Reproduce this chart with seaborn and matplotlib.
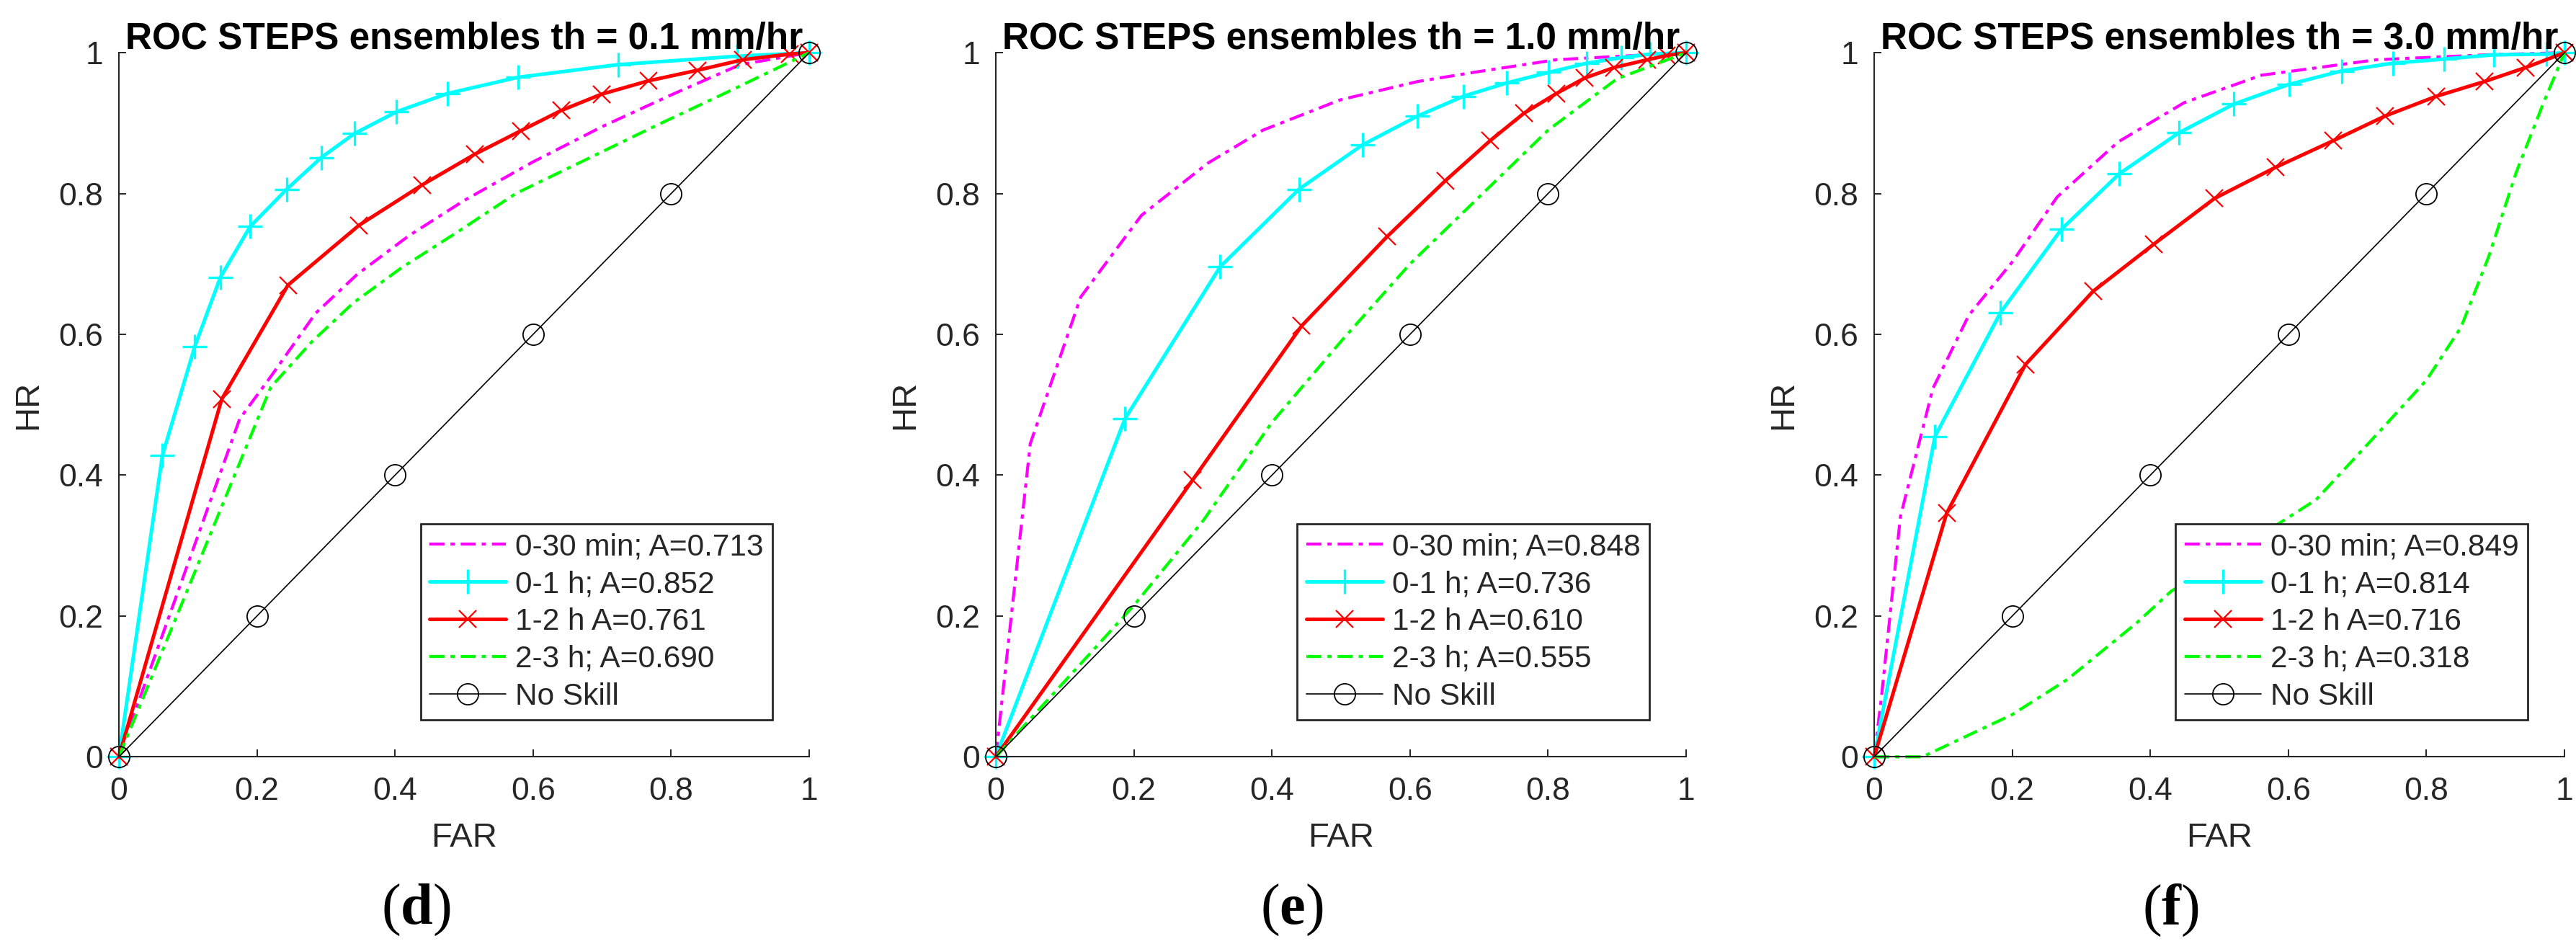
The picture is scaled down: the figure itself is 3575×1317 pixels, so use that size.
import numpy as np
import pandas as pd
import seaborn as sns
import matplotlib
matplotlib.use('Agg')
import matplotlib.pyplot as plt

# panel titles / legend labels
titles = ['ROC STEPS ensembles th = 0.1 mm/hr',
          'ROC STEPS ensembles th = 1.0 mm/hr',
          'ROC STEPS ensembles th = 3.0 mm/hr']
panel_tags = ['d', 'e', 'f']
labels_d = ['0-30 min; A=0.713', '0-1 h; A=0.852', '1-2 h A=0.761', '2-3 h; A=0.690', 'No Skill']
labels_e = ['0-30 min; A=0.848', '0-1 h; A=0.736', '1-2 h A=0.610', '2-3 h; A=0.555', 'No Skill']
labels_f = ['0-30 min; A=0.849', '0-1 h; A=0.814', '1-2 h A=0.716', '2-3 h; A=0.318', 'No Skill']

tick_vals = [0, 0.2, 0.4, 0.6, 0.8, 1]
tick_text = ['0', '0.2', '0.4', '0.6', '0.8', '1']

# no skill diagonal
noskill_x = [0, 0.2, 0.4, 0.6, 0.8, 1]
noskill_y = [0, 0.2, 0.4, 0.6, 0.8, 1]

# ---- (d) th = 0.1
mag_d_x = [0, 0.175, 0.22, 0.285, 0.345, 0.42, 0.50, 0.60, 0.70, 0.80, 0.90, 1]
mag_d_y = [0, 0.48, 0.54, 0.63, 0.685, 0.74, 0.79, 0.845, 0.895, 0.94, 0.983, 1]
cyan_d_x = [0, 0.063, 0.110, 0.147, 0.190, 0.243, 0.293, 0.341, 0.402, 0.476, 0.578, 0.723, 0.896, 1]
cyan_d_y = [0, 0.428, 0.583, 0.681, 0.753, 0.806, 0.851, 0.885, 0.916, 0.942, 0.965, 0.983, 0.995, 1]
red_d_x = [0, 0.149, 0.245, 0.348, 0.439, 0.516, 0.582, 0.641, 0.699, 0.767, 0.838, 0.904, 0.972, 1]
red_d_y = [0, 0.508, 0.670, 0.755, 0.812, 0.856, 0.889, 0.918, 0.941, 0.960, 0.975, 0.990, 0.998, 1]
green_d_x = [0, 0.22, 0.28, 0.34, 0.41, 0.49, 0.575, 0.67, 0.775, 0.89, 1]
green_d_y = [0, 0.525, 0.59, 0.645, 0.695, 0.745, 0.80, 0.845, 0.895, 0.948, 1]

# ---- (e) th = 1.0
mag_e_x = [0, 0.05, 0.123, 0.211, 0.307, 0.387, 0.499, 0.611, 0.692, 0.812, 1]
mag_e_y = [0, 0.445, 0.653, 0.769, 0.843, 0.890, 0.933, 0.959, 0.972, 0.990, 1]
cyan_e_x = [0, 0.187, 0.325, 0.439, 0.531, 0.611, 0.677, 0.740, 0.801, 0.856, 0.906, 0.948, 1]
cyan_e_y = [0, 0.480, 0.696, 0.806, 0.869, 0.910, 0.938, 0.957, 0.972, 0.985, 0.993, 0.998, 1]
red_e_x = [0, 0.285, 0.443, 0.567, 0.651, 0.716, 0.765, 0.812, 0.853, 0.896, 0.944, 0.972, 1]
red_e_y = [0, 0.393, 0.612, 0.739, 0.818, 0.875, 0.914, 0.942, 0.964, 0.979, 0.990, 0.996, 1]
green_e_x = [0, 0.2, 0.3, 0.4, 0.5, 0.6, 0.7, 0.8, 0.9, 1]
green_e_y = [0, 0.215, 0.335, 0.475, 0.59, 0.70, 0.795, 0.89, 0.963, 1]

# ---- (f) th = 3.0
mag_f_x = [0, 0.01, 0.038, 0.085, 0.137, 0.201, 0.265, 0.353, 0.449, 0.561, 0.728, 0.888, 1]
mag_f_y = [0, 0.08, 0.341, 0.523, 0.627, 0.704, 0.795, 0.873, 0.929, 0.968, 0.990, 0.997, 1]
cyan_f_x = [0, 0.088, 0.183, 0.271, 0.355, 0.441, 0.521, 0.601, 0.677, 0.751, 0.826, 0.898, 0.974, 1]
cyan_f_y = [0, 0.455, 0.631, 0.749, 0.828, 0.886, 0.927, 0.955, 0.974, 0.985, 0.991, 0.997, 0.998, 1]
red_f_x = [0, 0.105, 0.219, 0.317, 0.405, 0.493, 0.581, 0.665, 0.740, 0.814, 0.884, 0.944, 1]
red_f_y = [0, 0.346, 0.557, 0.661, 0.728, 0.793, 0.837, 0.875, 0.910, 0.938, 0.959, 0.979, 1]
green_f_x = [0, 0.07, 0.2, 0.28, 0.38, 0.43, 0.52, 0.64, 0.73, 0.80, 0.85, 0.89, 0.93, 0.97, 1]
green_f_y = [0, 0.0, 0.06, 0.11, 0.19, 0.235, 0.29, 0.365, 0.46, 0.535, 0.61, 0.71, 0.83, 0.93, 1]

panels = [
    (mag_d_x, mag_d_y, cyan_d_x, cyan_d_y, red_d_x, red_d_y, green_d_x, green_d_y, labels_d),
    (mag_e_x, mag_e_y, cyan_e_x, cyan_e_y, red_e_x, red_e_y, green_e_x, green_e_y, labels_e),
    (mag_f_x, mag_f_y, cyan_f_x, cyan_f_y, red_f_x, red_f_y, green_f_x, green_f_y, labels_f),
]

sns.set_theme(style='white')
plt.rcParams['font.family'] = ['Liberation Sans', 'DejaVu Sans']
plt.rcParams['mathtext.fontset'] = 'custom'
plt.rcParams['mathtext.bf'] = 'Liberation Serif:bold'
plt.rcParams['mathtext.rm'] = 'Liberation Serif'

DARK = '#262626'
dashdot = (0, (5, 2, 1.4, 2))

fig = plt.figure(figsize=(35.75, 13.17), dpi=100)
axes_left = [165 / 3575, 1382 / 3575, 2601 / 3575]
tag_x = [577 / 3575, 1793 / 3575, 3012 / 3575]

for i, (mx, my, cx, cy, rx, ry, gx, gy, labs) in enumerate(panels):
    ax = fig.add_axes([axes_left[i], 0.2025, 0.268, 0.742])

    sns.lineplot(x=mx, y=my, ax=ax, sort=False, estimator=None, color='#ff00ff',
                 linewidth=3.0, linestyle=dashdot, label=labs[0], clip_on=False)
    sns.lineplot(x=cx, y=cy, ax=ax, sort=False, estimator=None, color='#00ffff',
                 linewidth=3.6, marker='+', markersize=24, markeredgecolor='#00ffff',
                 markeredgewidth=2.4, label=labs[1], clip_on=False)
    sns.lineplot(x=rx, y=ry, ax=ax, sort=False, estimator=None, color='#ff0000',
                 linewidth=3.6, marker='x', markersize=17, markeredgecolor='#ff0000',
                 markeredgewidth=1.6, label=labs[2], clip_on=False)
    sns.lineplot(x=gx, y=gy, ax=ax, sort=False, estimator=None, color='#00ff00',
                 linewidth=3.0, linestyle=dashdot, label=labs[3], clip_on=False)
    sns.lineplot(x=noskill_x, y=noskill_y, ax=ax, sort=False, estimator=None, color='black',
                 linewidth=1.2, marker='o', markersize=21, markerfacecolor='none',
                 markeredgecolor='black', markeredgewidth=1.3, label=labs[4], clip_on=False)

    ax.set_xlim(0, 1)
    ax.set_ylim(0, 1)
    ax.set_xticks(tick_vals)
    ax.set_yticks(tick_vals)
    ax.set_xticklabels(tick_text)
    ax.set_yticklabels(tick_text)
    ax.tick_params(axis='x', direction='in', length=7, width=1.4, color=DARK,
                   labelsize=32, labelcolor=DARK, pad=20, bottom=True)
    ax.tick_params(axis='y', direction='in', length=7, width=1.4, color=DARK,
                   labelsize=32, labelcolor=DARK, pad=16, left=True)
    for s in ['top', 'right']:
        ax.spines[s].set_visible(False)
    for s in ['left', 'bottom']:
        ax.spines[s].set_color(DARK)
        ax.spines[s].set_linewidth(1.5)

    ax.set_xlabel('FAR', fontsize=34, color=DARK)
    ax.set_ylabel('HR', fontsize=34, color=DARK)
    ax.xaxis.set_label_coords(0.5, -0.093)
    ax.yaxis.set_label_coords(-0.108, 0.5)
    ax.set_title(titles[i], fontsize=37, fontweight='bold', color='black', pad=4)

    leg = ax.legend(loc='lower right', fontsize=30.5, frameon=True, fancybox=False,
                    framealpha=1, edgecolor=DARK, handlelength=2.5, handletextpad=0.3,
                    labelspacing=0.28, borderpad=0.3, borderaxespad=1.2)
    leg.get_frame().set_linewidth(2.0)

    fig.text(tag_x[i], 0.041, r'($\mathbf{' + panel_tags[i] + r'}$)', fontsize=58,
             family='Liberation Serif', ha='center', va='center', color='black')

fig.savefig('out.png', dpi=100)
